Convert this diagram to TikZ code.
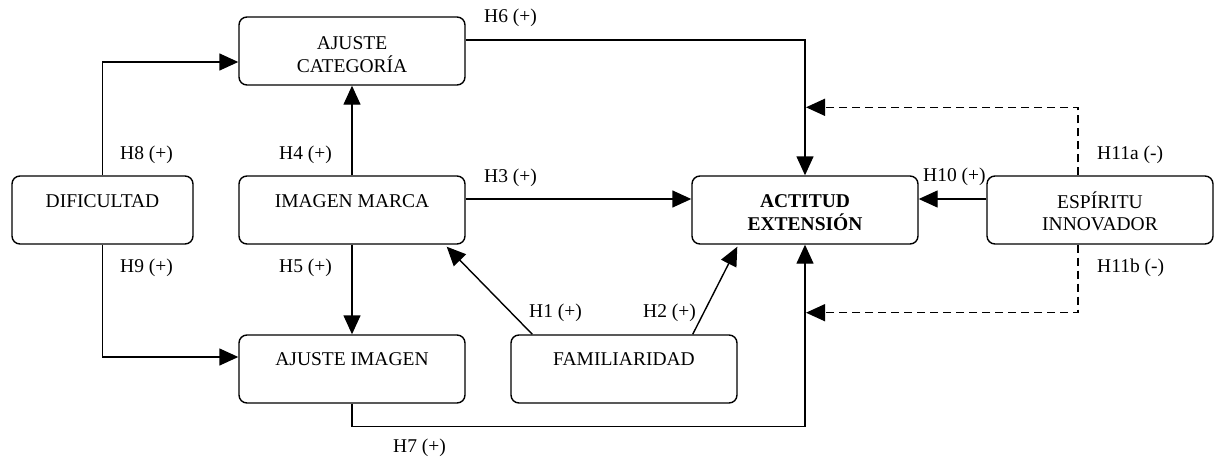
\documentclass[tikz,border=0pt]{standalone}
\usepackage{fontspec}
\setmainfont{Liberation Serif}
\usetikzlibrary{arrows.meta,calc}
\begin{document}
\begin{tikzpicture}[x=1pt,y=-1pt,
  box/.style={draw, rounded corners=8pt, line width=1.4pt, minimum width=226pt, minimum height=68pt, inner sep=0pt},
  txt/.style={anchor=base, inner sep=0pt, font=\fontsize{19.5}{23}\selectfont},
  lbl/.style={anchor=base west, inner sep=0pt, font=\fontsize{19.5}{23}\selectfont},
  arr/.style={line width=1.4pt, -{Triangle[length=19pt,width=17pt]}},
  darr/.style={arr, dash pattern=on 8pt off 5pt}]
\useasboundingbox (0,0) rectangle (1215,460);
% boxes
\node[box] (ac) at (352,51) {};
\node[box, minimum width=181pt] (dif) at (102.5,210) {};
\node[box] (im) at (352,210) {};
\node[box] (ai) at (352,369) {};
\node[box] (fa) at (624,369) {};
\node[box] (ae) at (805,210) {};
\node[box] (es) at (1100,210) {};
% box texts
\node[txt] (t1) at (352,49) {AJUSTE};
\node[txt] (t2) at (352,72) {CATEGORÍA};
\node[txt] (t3) at (102.5,207) {DIFICULTAD};
\node[txt] (t4) at (352,207) {IMAGEN MARCA};
\node[txt] (t5) at (352,365) {AJUSTE IMAGEN};
\node[txt] (t6) at (624,365) {FAMILIARIDAD};
\node[txt, font=\fontsize{19.5}{23}\selectfont\bfseries] (t7) at (805,207) {ACTITUD};
\node[txt, font=\fontsize{19.5}{23}\selectfont\bfseries] (t8) at (805,230) {EXTENSIÓN};
\node[txt] (t9) at (1100,208) {ESPÍRITU};
\node[txt] (t10) at (1100,230) {INNOVADOR};
% connectors
\draw[arr] (dif.north) |- ($(ac.west)+(0,11)$);
\draw[arr] (dif.south) |- ($(ai.west)+(0,-12)$);
\draw[arr] (im.north) -- (ac.south);
\draw[arr] (im.south) -- (ai.north);
\draw[arr] ($(ac.east)+(0,-11)$) -| (ae.north);
\draw[arr] ($(im.east)+(0,-11)$) -- ($(ae.west)+(0,-11)$);
\draw[arr] ($(fa.north west)+(22,0)$) -- ($(im.south east)+(-19,2)$);
\draw[arr] ($(fa.north east)+(-45,0)$) -- ($(ae.south west)+(46,2)$);
\draw[arr] (ai.south) -- ++(0,23) -| (ae.south);
\draw[arr] ($(es.west)+(0,-11)$) -- ($(ae.east)+(0,-11)$);
\draw[darr] ($(es.north)+(-22,0)$) |- ($(ae.north)+(1,-68)$);
\draw[darr] ($(es.south)+(-22,0)$) |- ($(ae.south)+(1,68)$);
% labels
\node[lbl] (h8) at (120,159) {H8 (+)};
\node[lbl] (h4) at (279,159) {H4 (+)};
\node[lbl] (h9) at (120,272) {H9 (+)};
\node[lbl] (h5) at (279,272) {H5 (+)};
\node[lbl] (h6) at (484,23) {H6 (+)};
\node[lbl] (h3) at (484,182) {H3 (+)};
\node[lbl] (h10) at (923,181) {H10 (+)};
\node[lbl] (h11a) at (1097,159) {H11a (-)};
\node[lbl] (h11b) at (1097,272) {H11b (-)};
\node[lbl] (h1) at (529,317) {H1 (+)};
\node[lbl] (h2) at (643,317) {H2 (+)};
\node[lbl] (h7) at (393,452) {H7 (+)};
\end{tikzpicture}
\end{document}
